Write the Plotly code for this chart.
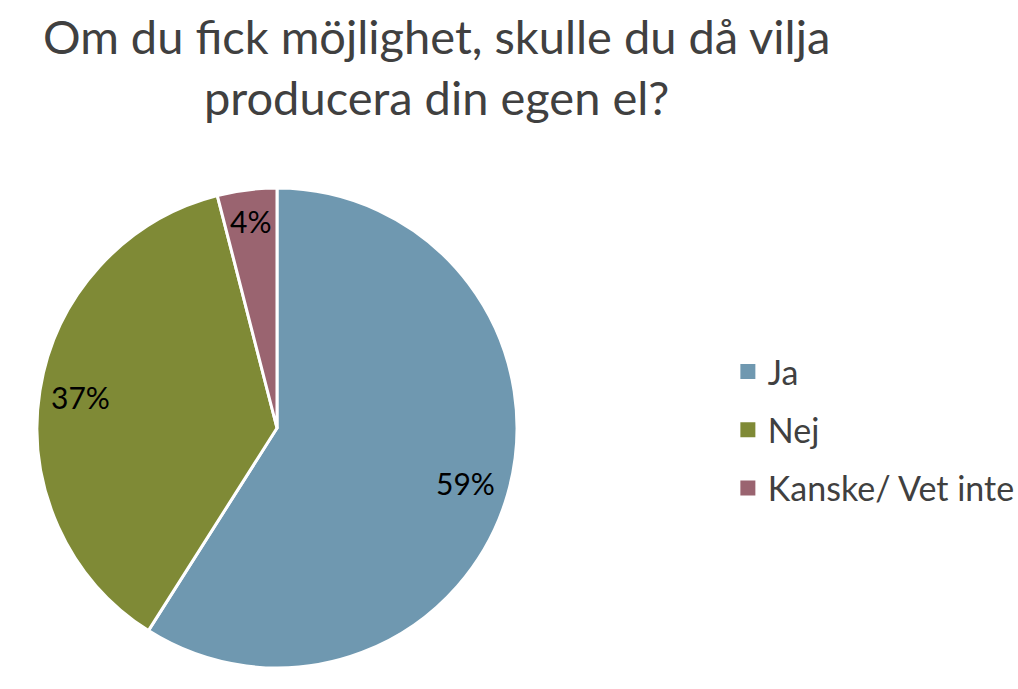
import numpy as np
import plotly.graph_objects as go

title_lines = ["Om du fick möjlighet, skulle du då vilja", "producera din egen el?"]
categories = ["Ja", "Nej", "Kanske/ Vet inte"]
values = [59, 37, 4]
colors = ["#6f98b0", "#7f8a36", "#9a6470"]

FONT = "Lato"
W, H = 1018, 689
CX, CY, R = 277, 428, 240  # pie centre / radius in px

fig = go.Figure()
fig.add_trace(go.Pie(
    labels=categories, values=values, sort=False, direction="clockwise", rotation=0,
    marker=dict(colors=colors, line=dict(color="white", width=3)),
    textinfo="none",
    domain=dict(x=[(CX-R)/W, (CX+R)/W], y=[1-(CY+R)/H, 1-(CY-R)/H]),
    showlegend=False, hoverinfo="label+percent",
))
for i, (c, col) in enumerate(zip(categories, colors)):
    fig.add_trace(go.Scatter(
        x=[None], y=[None], mode="markers", name=c, legendgroup=f"g{i}",
        marker=dict(symbol="square", size=15, color=col), showlegend=True,
    ))

# data labels at a fraction of the radius along each slice's mid-angle
vals = np.array(values, dtype=float)
fr = vals / vals.sum()
mid = (np.cumsum(fr) - fr / 2) * 2 * np.pi
rf = [0.82, 0.83, 0.87]
for f, a, k in zip(fr, mid, rf):
    px = CX + k * R * np.sin(a)
    py = CY - k * R * np.cos(a)
    fig.add_annotation(x=px / W, y=1 - py / H, xref="paper", yref="paper",
                       xanchor="center", yanchor="middle",
                       text=f"{round(f*100)}%", showarrow=False,
                       font=dict(family=FONT, size=30, color="black"))

fig.add_annotation(x=436/W, y=1-6/H, xref="paper", yref="paper",
                   xanchor="center", yanchor="top", showarrow=False,
                   text="<br>".join(title_lines),
                   font=dict(family=FONT, size=47, color="#404040"))

fig.update_layout(
    width=W, height=H,
    margin=dict(l=0, r=0, t=0, b=0, autoexpand=False),
    paper_bgcolor="white", plot_bgcolor="white",
    xaxis=dict(visible=False), yaxis=dict(visible=False),
    legend=dict(x=0.715, xanchor="left", y=1-430/H, yanchor="middle",
                font=dict(family=FONT, size=34, color="#404040"),
                tracegroupgap=11, traceorder="grouped", itemsizing="trace"),
)
fig.write_html("out.html", config={"displayModeBar": False},
               post_script="document.body.style.margin='0';document.body.style.overflow='hidden';")
